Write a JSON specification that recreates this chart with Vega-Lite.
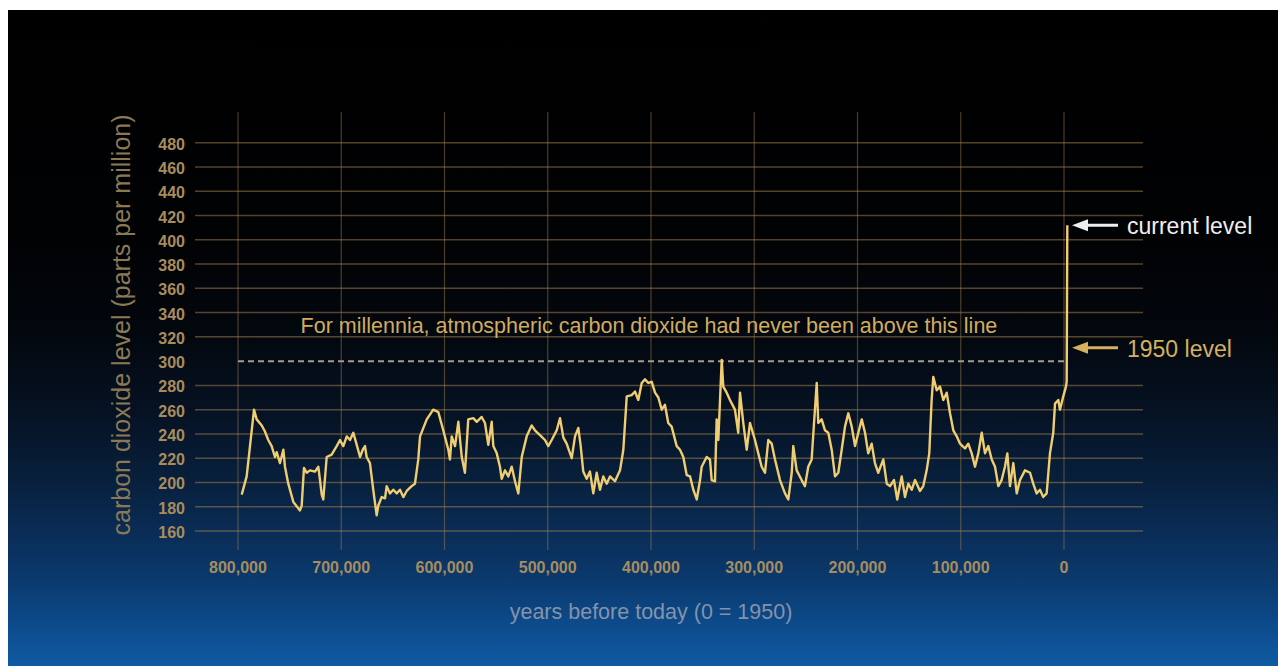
{
  "$schema": "https://vega.github.io/schema/vega-lite/v6.json",
  "width": 1270,
  "height": 656,
  "autosize": {"type": "none"},
  "padding": {"left": 8, "top": 10, "right": 0, "bottom": 0},
  "background": "#ffffff",
  "view": {
    "stroke": null,
    "fill": {
      "gradient": "linear", "x1": 0, "y1": 0, "x2": 0, "y2": 1,
      "stops": [
        {"offset": 0, "color": "#000000"},
        {"offset": 0.35, "color": "#010204"},
        {"offset": 0.5, "color": "#03080f"},
        {"offset": 0.62, "color": "#061325"},
        {"offset": 0.72, "color": "#08203d"},
        {"offset": 0.8, "color": "#0a2d57"},
        {"offset": 0.87, "color": "#0b3a6e"},
        {"offset": 0.93, "color": "#0c4988"},
        {"offset": 1, "color": "#0f5aa2"}
      ]
    }
  },
  "config": {"font": "Liberation Sans", "view": {"stroke": null}},
  "datasets": {
    "yticks": [{"ppm": 160}, {"ppm": 180}, {"ppm": 200}, {"ppm": 220}, {"ppm": 240}, {"ppm": 260}, {"ppm": 280}, {"ppm": 300}, {"ppm": 320}, {"ppm": 340}, {"ppm": 360}, {"ppm": 380}, {"ppm": 400}, {"ppm": 420}, {"ppm": 440}, {"ppm": 460}, {"ppm": 480}],
    "xticks": [{"years": 0}, {"years": 100000}, {"years": 200000}, {"years": 300000}, {"years": 400000}, {"years": 500000}, {"years": 600000}, {"years": 700000}, {"years": 800000}],
    "titles": [{"axis": "x", "title": "years before today (0 = 1950)"}, {"axis": "y", "title": "carbon dioxide level (parts per million)"}]
  },
  "layer": [
    {
      "data": {"name": "yticks"},
      "transform": [{"filter": "datum.ppm != 300"}],
      "mark": {"type": "rule", "color": "#a8844e", "opacity": 0.5, "strokeWidth": 1.5},
      "encoding": {
        "y": {"field": "ppm", "type": "quantitative", "axis": null},
        "x": {"datum": 841646, "type": "quantitative", "axis": null},
        "x2": {"datum": -76513}
      }
    },
    {
      "data": {"name": "xticks"},
      "mark": {"type": "rule", "color": "#a8844e", "opacity": 0.45, "strokeWidth": 1.2},
      "encoding": {
        "x": {"field": "years", "type": "quantitative", "axis": null},
        "y": {"datum": 505.3, "type": "quantitative", "axis": null},
        "y2": {"datum": 144.4}
      }
    },
    {
      "data": {"values": [{"ppm": 300}]},
      "mark": {"type": "rule", "color": "#a39c8c", "strokeWidth": 2, "strokeDash": [6, 4]},
      "encoding": {
        "y": {"field": "ppm", "type": "quantitative", "axis": null},
        "x": {"datum": 800000, "type": "quantitative", "axis": null},
        "x2": {"datum": 0}
      }
    },
    {
      "data": {"name": "yticks"},
      "mark": {"type": "text", "align": "right", "baseline": "middle", "dy": 2, "fontSize": 16, "fontWeight": "bold", "color": "#a88c5c", "font": "Liberation Sans"},
      "encoding": {
        "y": {"field": "ppm", "type": "quantitative", "axis": null},
        "x": {"datum": 851330, "type": "quantitative", "axis": null},
        "text": {"field": "ppm", "type": "quantitative"}
      }
    },
    {
      "data": {"name": "xticks"},
      "mark": {"type": "text", "align": "center", "baseline": "alphabetic", "fontSize": 16, "fontWeight": "bold", "color": "#a68d60", "font": "Liberation Sans"},
      "encoding": {
        "x": {"field": "years", "type": "quantitative", "axis": null},
        "y": {"datum": 125.4, "type": "quantitative", "axis": null},
        "text": {"field": "years", "type": "quantitative", "format": ",d"}
      }
    },
    {
      "data": {"name": "titles"},
      "transform": [{"filter": "datum.axis == 'x'"}],
      "mark": {"type": "text", "align": "center", "baseline": "alphabetic", "fontSize": 21.5, "color": "#8493a9", "font": "Liberation Sans"},
      "encoding": {
        "x": {"datum": 400000, "type": "quantitative", "axis": null},
        "y": {"datum": 87.5, "type": "quantitative", "axis": null},
        "text": {"field": "title"}
      }
    },
    {
      "data": {"name": "titles"},
      "transform": [{"filter": "datum.axis == 'y'"}],
      "mark": {"type": "text", "align": "center", "baseline": "alphabetic", "angle": 270, "fontSize": 25, "color": "#8b7955", "font": "Liberation Sans"},
      "encoding": {
        "x": {"datum": 904600, "type": "quantitative", "axis": null},
        "y": {"datum": 329.8, "type": "quantitative", "axis": null},
        "text": {"field": "title"}
      }
    },
    {
      "data": {"values": [
        {"years": 796400, "ppm": 190}, {"years": 791600, "ppm": 205}, {"years": 784500, "ppm": 260}, {"years": 781900, "ppm": 252},
        {"years": 777000, "ppm": 247}, {"years": 773900, "ppm": 242}, {"years": 770700, "ppm": 235}, {"years": 767400, "ppm": 230},
        {"years": 764200, "ppm": 221}, {"years": 762500, "ppm": 225}, {"years": 759300, "ppm": 216}, {"years": 756100, "ppm": 227},
        {"years": 754500, "ppm": 213}, {"years": 751300, "ppm": 199}, {"years": 746400, "ppm": 184}, {"years": 740000, "ppm": 177},
        {"years": 738300, "ppm": 181}, {"years": 736100, "ppm": 212}, {"years": 733500, "ppm": 208}, {"years": 730300, "ppm": 210},
        {"years": 725400, "ppm": 209}, {"years": 722200, "ppm": 213}, {"years": 718900, "ppm": 190}, {"years": 717400, "ppm": 186},
        {"years": 714100, "ppm": 221}, {"years": 709300, "ppm": 223}, {"years": 704400, "ppm": 230}, {"years": 701200, "ppm": 235},
        {"years": 698000, "ppm": 230}, {"years": 694700, "ppm": 238}, {"years": 691500, "ppm": 235}, {"years": 688300, "ppm": 241},
        {"years": 685000, "ppm": 231}, {"years": 681800, "ppm": 221}, {"years": 679200, "ppm": 227}, {"years": 677000, "ppm": 230},
        {"years": 675400, "ppm": 221}, {"years": 672200, "ppm": 216}, {"years": 669000, "ppm": 194}, {"years": 665700, "ppm": 173},
        {"years": 664100, "ppm": 181}, {"years": 660800, "ppm": 188}, {"years": 657600, "ppm": 187}, {"years": 656000, "ppm": 197},
        {"years": 652800, "ppm": 191}, {"years": 649600, "ppm": 194}, {"years": 646300, "ppm": 191}, {"years": 643100, "ppm": 194},
        {"years": 639900, "ppm": 188}, {"years": 636600, "ppm": 193}, {"years": 631800, "ppm": 197}, {"years": 628600, "ppm": 199},
        {"years": 625400, "ppm": 219}, {"years": 623700, "ppm": 238}, {"years": 617200, "ppm": 252}, {"years": 610900, "ppm": 260},
        {"years": 606000, "ppm": 258}, {"years": 601200, "ppm": 243}, {"years": 596300, "ppm": 227}, {"years": 594700, "ppm": 219},
        {"years": 593000, "ppm": 238}, {"years": 589800, "ppm": 230}, {"years": 586600, "ppm": 250}, {"years": 583300, "ppm": 221},
        {"years": 580200, "ppm": 208}, {"years": 577000, "ppm": 252}, {"years": 572100, "ppm": 253}, {"years": 568800, "ppm": 250},
        {"years": 564000, "ppm": 254}, {"years": 560800, "ppm": 249}, {"years": 557600, "ppm": 231}, {"years": 554300, "ppm": 250},
        {"years": 552700, "ppm": 230}, {"years": 549400, "ppm": 224}, {"years": 546300, "ppm": 213}, {"years": 544600, "ppm": 203},
        {"years": 541400, "ppm": 210}, {"years": 538200, "ppm": 205}, {"years": 534900, "ppm": 213}, {"years": 531700, "ppm": 201},
        {"years": 528500, "ppm": 191}, {"years": 525200, "ppm": 221}, {"years": 520400, "ppm": 238}, {"years": 515600, "ppm": 247},
        {"years": 512400, "ppm": 243}, {"years": 507500, "ppm": 239}, {"years": 502700, "ppm": 235}, {"years": 499500, "ppm": 230},
        {"years": 496200, "ppm": 235}, {"years": 491300, "ppm": 243}, {"years": 488100, "ppm": 253}, {"years": 484900, "ppm": 237},
        {"years": 481700, "ppm": 232}, {"years": 476800, "ppm": 220}, {"years": 473600, "ppm": 238}, {"years": 470400, "ppm": 245},
        {"years": 468100, "ppm": 230}, {"years": 465600, "ppm": 209}, {"years": 462300, "ppm": 203}, {"years": 459100, "ppm": 209},
        {"years": 455900, "ppm": 191}, {"years": 452600, "ppm": 208}, {"years": 449400, "ppm": 194}, {"years": 446200, "ppm": 205},
        {"years": 442900, "ppm": 199}, {"years": 439700, "ppm": 205}, {"years": 434900, "ppm": 201}, {"years": 430000, "ppm": 210},
        {"years": 426800, "ppm": 227}, {"years": 423500, "ppm": 271}, {"years": 418700, "ppm": 272}, {"years": 415500, "ppm": 275},
        {"years": 412300, "ppm": 268}, {"years": 409000, "ppm": 282}, {"years": 405800, "ppm": 285}, {"years": 402600, "ppm": 282},
        {"years": 399300, "ppm": 283}, {"years": 396100, "ppm": 274}, {"years": 392900, "ppm": 270}, {"years": 389600, "ppm": 260},
        {"years": 386500, "ppm": 264}, {"years": 383300, "ppm": 249}, {"years": 380000, "ppm": 246}, {"years": 375100, "ppm": 230},
        {"years": 371900, "ppm": 227}, {"years": 368700, "ppm": 221}, {"years": 365400, "ppm": 206}, {"years": 362200, "ppm": 205},
        {"years": 359000, "ppm": 194}, {"years": 355700, "ppm": 186}, {"years": 352500, "ppm": 202}, {"years": 350900, "ppm": 213},
        {"years": 346100, "ppm": 221}, {"years": 342900, "ppm": 219}, {"years": 341200, "ppm": 202}, {"years": 338000, "ppm": 201},
        {"years": 336400, "ppm": 252}, {"years": 334800, "ppm": 235}, {"years": 331500, "ppm": 301}, {"years": 330000, "ppm": 279},
        {"years": 326700, "ppm": 274}, {"years": 323500, "ppm": 268}, {"years": 318700, "ppm": 260}, {"years": 315500, "ppm": 241},
        {"years": 313800, "ppm": 274}, {"years": 310600, "ppm": 249}, {"years": 307300, "ppm": 227}, {"years": 304100, "ppm": 249},
        {"years": 299300, "ppm": 235}, {"years": 296100, "ppm": 224}, {"years": 292800, "ppm": 213}, {"years": 289600, "ppm": 208},
        {"years": 286400, "ppm": 235}, {"years": 283100, "ppm": 232}, {"years": 279900, "ppm": 219}, {"years": 275100, "ppm": 202},
        {"years": 270200, "ppm": 191}, {"years": 267000, "ppm": 186}, {"years": 263700, "ppm": 208}, {"years": 262200, "ppm": 230},
        {"years": 258900, "ppm": 210}, {"years": 254100, "ppm": 202}, {"years": 250900, "ppm": 197}, {"years": 247700, "ppm": 213},
        {"years": 244400, "ppm": 219}, {"years": 242100, "ppm": 249}, {"years": 239500, "ppm": 282}, {"years": 238000, "ppm": 249},
        {"years": 234700, "ppm": 252}, {"years": 231500, "ppm": 243}, {"years": 228300, "ppm": 241}, {"years": 225000, "ppm": 227},
        {"years": 221800, "ppm": 205}, {"years": 218600, "ppm": 208}, {"years": 215300, "ppm": 227}, {"years": 212100, "ppm": 246},
        {"years": 208900, "ppm": 257}, {"years": 205600, "ppm": 246}, {"years": 202400, "ppm": 230}, {"years": 199200, "ppm": 241},
        {"years": 195900, "ppm": 252}, {"years": 192700, "ppm": 241}, {"years": 189600, "ppm": 224}, {"years": 186300, "ppm": 232},
        {"years": 183100, "ppm": 216}, {"years": 179900, "ppm": 208}, {"years": 175000, "ppm": 219}, {"years": 171700, "ppm": 199},
        {"years": 168500, "ppm": 197}, {"years": 164700, "ppm": 202}, {"years": 161500, "ppm": 186}, {"years": 157200, "ppm": 205},
        {"years": 154000, "ppm": 188}, {"years": 150800, "ppm": 199}, {"years": 147500, "ppm": 194}, {"years": 144300, "ppm": 202},
        {"years": 139500, "ppm": 193}, {"years": 136300, "ppm": 197}, {"years": 133000, "ppm": 210}, {"years": 130500, "ppm": 224},
        {"years": 128200, "ppm": 268}, {"years": 126600, "ppm": 287}, {"years": 123300, "ppm": 276}, {"years": 120100, "ppm": 279},
        {"years": 116900, "ppm": 268}, {"years": 113600, "ppm": 274}, {"years": 110400, "ppm": 257}, {"years": 107200, "ppm": 243},
        {"years": 103900, "ppm": 238}, {"years": 100700, "ppm": 232}, {"years": 95900, "ppm": 228}, {"years": 92700, "ppm": 232},
        {"years": 89400, "ppm": 224}, {"years": 86200, "ppm": 213}, {"years": 83000, "ppm": 224}, {"years": 79700, "ppm": 241},
        {"years": 76500, "ppm": 224}, {"years": 73300, "ppm": 230}, {"years": 70000, "ppm": 219}, {"years": 66800, "ppm": 213},
        {"years": 63600, "ppm": 197}, {"years": 60400, "ppm": 202}, {"years": 57200, "ppm": 213}, {"years": 54900, "ppm": 224},
        {"years": 52300, "ppm": 197}, {"years": 49100, "ppm": 216}, {"years": 45800, "ppm": 191}, {"years": 42600, "ppm": 202},
        {"years": 37800, "ppm": 210}, {"years": 32900, "ppm": 208}, {"years": 29800, "ppm": 199}, {"years": 26500, "ppm": 191},
        {"years": 23300, "ppm": 194}, {"years": 20100, "ppm": 188}, {"years": 16800, "ppm": 191}, {"years": 13600, "ppm": 224},
        {"years": 10400, "ppm": 241}, {"years": 8700, "ppm": 265}, {"years": 5500, "ppm": 268}, {"years": 3900, "ppm": 260},
        {"years": 700, "ppm": 271}, {"years": -1900, "ppm": 279}, {"years": -2600, "ppm": 283}, {"years": -3200, "ppm": 412}
      ]},
      "mark": {"type": "line", "color": "#efcd70", "strokeWidth": 2.4, "strokeJoin": "round"},
      "encoding": {
        "x": {
          "field": "years", "type": "quantitative",
          "scale": {"domain": [-207264, 1022760], "reverse": true, "nice": false, "zero": false},
          "axis": null
        },
        "y": {
          "field": "ppm", "type": "quantitative",
          "scale": {"domain": [48.77, 589.35], "nice": false, "zero": false},
          "axis": null
        }
      }
    },
    {
      "data": {"values": [{"note": "For millennia, atmospheric carbon dioxide had never been above this line"}]},
      "mark": {"type": "text", "fontSize": 21.5, "color": "#d1ac5e", "align": "center", "baseline": "alphabetic", "font": "Liberation Sans"},
      "encoding": {
        "x": {"datum": 402000, "type": "quantitative", "axis": null},
        "y": {"datum": 323, "type": "quantitative", "axis": null},
        "text": {"field": "note"}
      }
    },
    {
      "data": {"values": [{"label": "current level", "ppm": 412}, {"label": "1950 level", "ppm": 311}]},
      "encoding": {
        "y": {"field": "ppm", "type": "quantitative", "axis": null},
        "color": {"field": "label", "type": "nominal", "scale": {"domain": ["current level", "1950 level"], "range": ["#eeeeee", "#d6b05c"]}, "legend": null}
      },
      "layer": [
        {
          "mark": {"type": "rule", "strokeWidth": 3},
          "encoding": {"x": {"datum": -15500, "type": "quantitative", "axis": null}, "x2": {"datum": -52300}}
        },
        {
          "mark": {"type": "point", "shape": "M -1 0 L 1 -0.75 L 1 0.75 Z", "size": 256, "filled": true, "opacity": 1, "strokeWidth": 0},
          "encoding": {"x": {"datum": -15500, "type": "quantitative", "axis": null}}
        },
        {
          "mark": {"type": "text", "align": "left", "baseline": "middle", "fontSize": 23, "dy": 2, "font": "Liberation Sans"},
          "encoding": {"x": {"datum": -61000, "type": "quantitative", "axis": null}, "text": {"field": "label"}}
        }
      ]
    }
  ]
}
